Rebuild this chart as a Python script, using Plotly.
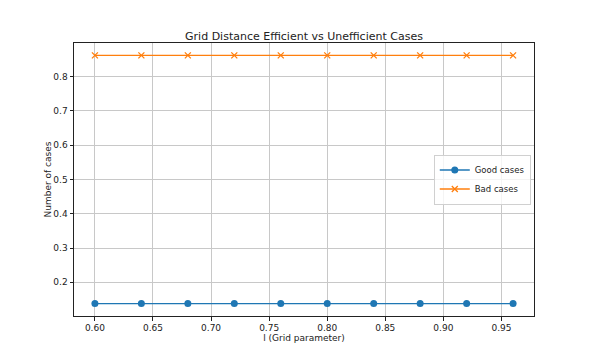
import plotly.graph_objects as go

l_values = [0.60, 0.64, 0.68, 0.72, 0.76, 0.80, 0.84, 0.88, 0.92, 0.96]
good_cases = [0.138] * 10
bad_cases = [0.862] * 10
x_ticks = [0.60, 0.65, 0.70, 0.75, 0.80, 0.85, 0.90, 0.95]
y_ticks = [0.2, 0.3, 0.4, 0.5, 0.6, 0.7, 0.8]

fig = go.Figure()
fig.add_trace(go.Scatter(x=l_values, y=good_cases, mode="lines+markers", name="Good cases",
                         line=dict(color="#1f77b4", width=1.3),
                         marker=dict(symbol="circle", size=7, color="#1f77b4")))
fig.add_trace(go.Scatter(x=l_values, y=bad_cases, mode="lines+markers", name="Bad cases",
                         line=dict(color="#ff7f0e", width=1.3),
                         marker=dict(symbol="x-thin", size=6, color="#ff7f0e",
                                     line=dict(width=1.3, color="#ff7f0e"))))

axis_common = dict(showgrid=True, gridcolor="#c8c8c8", gridwidth=0.8,
                   showline=True, linecolor="#222222", linewidth=1, mirror=True,
                   ticks="outside", ticklen=3.5, tickcolor="#222222", tickwidth=0.8,
                   zeroline=False, tickfont=dict(size=9, color="#222222"), automargin=False)

fig.update_layout(
    width=592, height=355,
    margin=dict(l=74, r=58, t=43, b=39),
    paper_bgcolor="white", plot_bgcolor="white",
    font=dict(family="DejaVu Sans", color="#222222"),
    title=dict(text="Grid Distance Efficient vs Unefficient Cases", x=0.5, xref="paper",
               y=0.887, yref="container", yanchor="bottom", font=dict(size=11), automargin=False),
    xaxis=dict(range=[0.582, 0.978], tickvals=x_ticks, ticktext=[f"{v:.2f}" for v in x_ticks],
               title=dict(text="l (Grid parameter)", font=dict(size=9), standoff=2), **axis_common),
    yaxis=dict(range=[0.1018, 0.8982], tickvals=y_ticks, ticktext=[f"{v:.1f}" for v in y_ticks],
               title=dict(text="Number of cases", font=dict(size=9), standoff=0), **axis_common),
    legend=dict(x=0.993, y=0.5, xanchor="right", yanchor="middle",
                bgcolor="rgba(255,255,255,0.8)", bordercolor="#d0d0d0", borderwidth=1,
                font=dict(size=8.5), tracegroupgap=0, itemwidth=30),
    showlegend=True,
)

fig.write_html("out.html", config={"displayModeBar": False},
               post_script="document.body.style.margin='0';document.body.style.padding='0';")
